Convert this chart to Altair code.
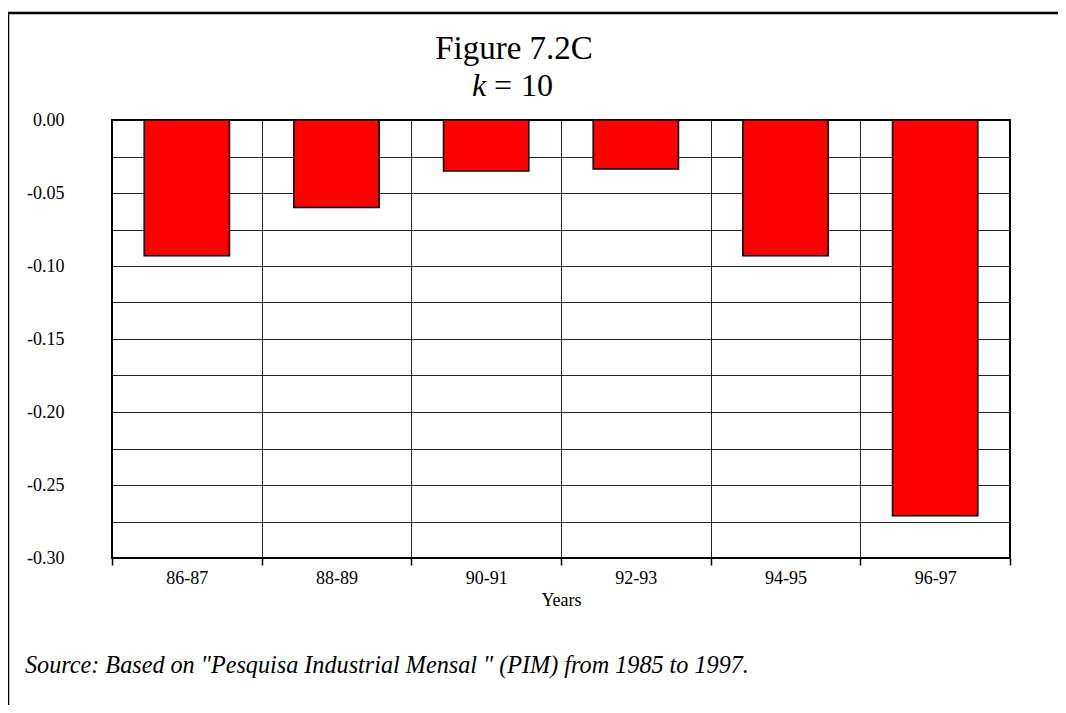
import altair as alt
import pandas as pd

# ---- data ----
years = ["86-87", "88-89", "90-91", "92-93", "94-95", "96-97"]
values = [-0.093, -0.060, -0.035, -0.0335, -0.093, -0.271]
y_grid = [0.0, -0.025, -0.05, -0.075, -0.10, -0.125, -0.15, -0.175,
          -0.20, -0.225, -0.25, -0.275, -0.30]
title_line1 = ["Figure 7.2C"]
title_k = ["k"]
title_eq = ["="]
title_num = ["10"]
source_text = ['Source: Based on "Pesquisa Industrial Mensal " (PIM) from 1985 to 1997.']
x_title = "Years"

FONT = "Liberation Serif"
W, H = 898, 438

df = pd.DataFrame({"year": years, "value": values})

bars = alt.Chart(df).mark_bar(
    color="#FF0000", stroke="black", strokeWidth=1.5,
    width=alt.RelativeBandSize(0.57)
).encode(
    x=alt.X("year:N", sort=years,
            scale=alt.Scale(paddingInner=0, paddingOuter=0),
            axis=alt.Axis(title=x_title, labelAngle=0, tickBand="extent",
                          grid=True, domain=False, ticks=True, tickSize=7,
                          tickWidth=1.5, tickColor="black", labelPadding=4,
                          labelFontSize=18, titleFontSize=18, titlePadding=4,
                          titleFontWeight="normal")),
    y=alt.Y("value:Q", scale=alt.Scale(domain=[-0.30, 0.0], nice=False, zero=False),
            axis=alt.Axis(title=None, values=y_grid, ticks=False, domain=False,
                          labelPadding=48, labelFontSize=18, grid=True,
                          labelExpr="round(datum.value*40) % 2 == 0 ? (datum.value < 0 ? '-' : '') + format(abs(datum.value), '.2f') : ''")),
)

one = pd.DataFrame({"a": [0]})
frame_top = alt.Chart(one).mark_rule(color="black", strokeWidth=2.5).encode(
    x=alt.value(-104), x2=alt.value(1000), y=alt.value(-107))
frame_left = alt.Chart(one).mark_rule(color="black", strokeWidth=2.5).encode(
    x=alt.value(-104), y=alt.value(-108), y2=alt.value(700))

def label(txt, x, y, size, style="normal"):
    return alt.Chart(pd.DataFrame({"t": txt})).mark_text(
        font=FONT, fontSize=size, fontStyle=style, align="left",
        baseline="alphabetic", color="black"
    ).encode(text="t:N", x=alt.value(x), y=alt.value(y))

t1 = alt.Chart(pd.DataFrame({"t": title_line1})).mark_text(
    font=FONT, fontSize=33, align="center", baseline="alphabetic", color="black"
).encode(text="t:N", x=alt.value(402), y=alt.value(-61))

tk = label(title_k, 360, -24, 32, "italic")
teq = label(title_eq, 382, -24, 32)
tnum = label(title_num, 409, -24, 32)
src = label(source_text, -87, 553, 24.2, "italic")

chart = alt.layer(frame_top, frame_left, bars, t1, tk, teq, tnum, src).properties(
    width=W, height=H,
    padding={"left": 104, "top": 112, "right": 48, "bottom": 147},
    autosize=alt.AutoSizeParams(type="none"),
    background="white",
).configure_view(
    stroke="black", strokeWidth=2
).configure_axis(
    labelFont=FONT, titleFont=FONT, labelColor="black", titleColor="black",
    gridColor="black", gridWidth=1, gridOpacity=0.85
)

chart.save("out.html", embed_options={"renderer": "svg", "actions": False})
